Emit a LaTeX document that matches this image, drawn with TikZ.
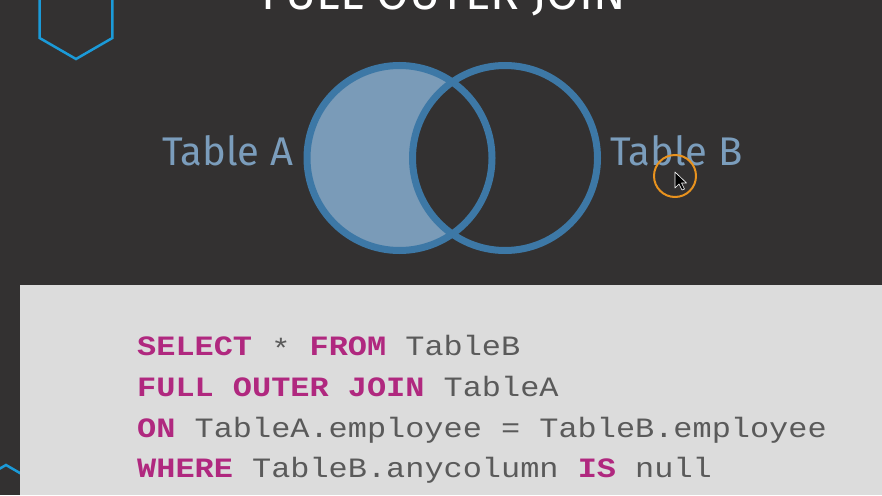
\documentclass[tikz,border=0pt]{standalone}
\usepackage{fontspec}
\setmainfont{Fira Sans}
\newfontfamily\codefont[FakeStretch=1.14]{Liberation Mono}
\definecolor{bgdark}{HTML}{333131}
\definecolor{boxgray}{HTML}{DCDCDC}
\definecolor{vennline}{HTML}{3D78A6}
\definecolor{vennfill}{HTML}{7A9BB8}
\definecolor{labelblue}{HTML}{7B9DBC}
\definecolor{hexblue}{HTML}{1B9AD8}
\definecolor{ringorange}{HTML}{E8921E}
\definecolor{kwpink}{HTML}{B0287F}
\definecolor{codegray}{HTML}{5A5A5A}
\newcommand{\kw}[1]{\textcolor{kwpink}{\bfseries #1}}
\tikzset{
  hexline/.style={draw=hexblue, line width=2.5pt, line join=miter},
  vennring/.style={draw=vennline, line width=7pt},
  tablelabel/.style={text=labelblue, inner sep=0pt, anchor=base west, font=\fontsize{40}{48}\selectfont},
  codeline/.style={text=codegray, inner sep=0pt, anchor=base west, font=\codefont\fontsize{28}{34}\selectfont},
}
\begin{document}
\begin{tikzpicture}[x=1pt, y=-1pt]
  \useasboundingbox (0,0) rectangle (882,495);
  \clip (0,0) rectangle (882,495);
  \fill[bgdark] (0,0) rectangle (882,495);
  % hexagons
  \draw[hexline] (76,-25) -- (112.4,-4) -- (112.4,38) -- (76,59) -- (39.6,38) -- (39.6,-4) -- cycle;
  \begin{scope}
    \clip (0,440) rectangle (20,495);
    \draw[hexline] (-30.4,486) -- (6,465) -- (42.4,486);
  \end{scope}
  % title
  \node[text=white, inner sep=0pt, anchor=base, font=\fontsize{47.5}{56}\selectfont] (title) at (444,10) {FULL OUTER JOIN};
  % venn
  \begin{scope}
    \clip (399.5,158) circle (92.5);
    \fill[vennfill, even odd rule] (399.5,158) circle (92.5) (505,158) circle (92.5);
  \end{scope}
  \draw[vennring] (399.5,158) circle (92.5);
  \draw[vennring] (505,158) circle (92.5);
  \node[tablelabel] (tabA) at (162,165) {Table A};
  \node[tablelabel] (tabB) at (610,165) {Table B};
  % cursor
  \draw[ringorange, line width=2pt] (675,176) circle (21);
  \filldraw[fill=black, draw=white, line width=0.6pt, line join=round]
    (675,172) -- (675,188) -- (679,184) -- (682,190) -- (684.5,189) -- (681.5,183) -- (686.5,183) -- cycle;
  % code box
  \fill[boxgray] (20,285) rectangle (882,495);
  \node[codeline] (sel) at (137,355) {\kw{SELECT} \raisebox{-0.12em}{*} \kw{FROM} TableB};
  \node[codeline] (join) at (137,396) {\kw{FULL OUTER JOIN} TableA};
  \node[codeline] (on) at (137,437) {\kw{ON} TableA.employee = TableB.employee};
  \node[codeline] (where) at (137,477) {\kw{WHERE} TableB.anycolumn \kw{IS} null};
\end{tikzpicture}
\end{document}
